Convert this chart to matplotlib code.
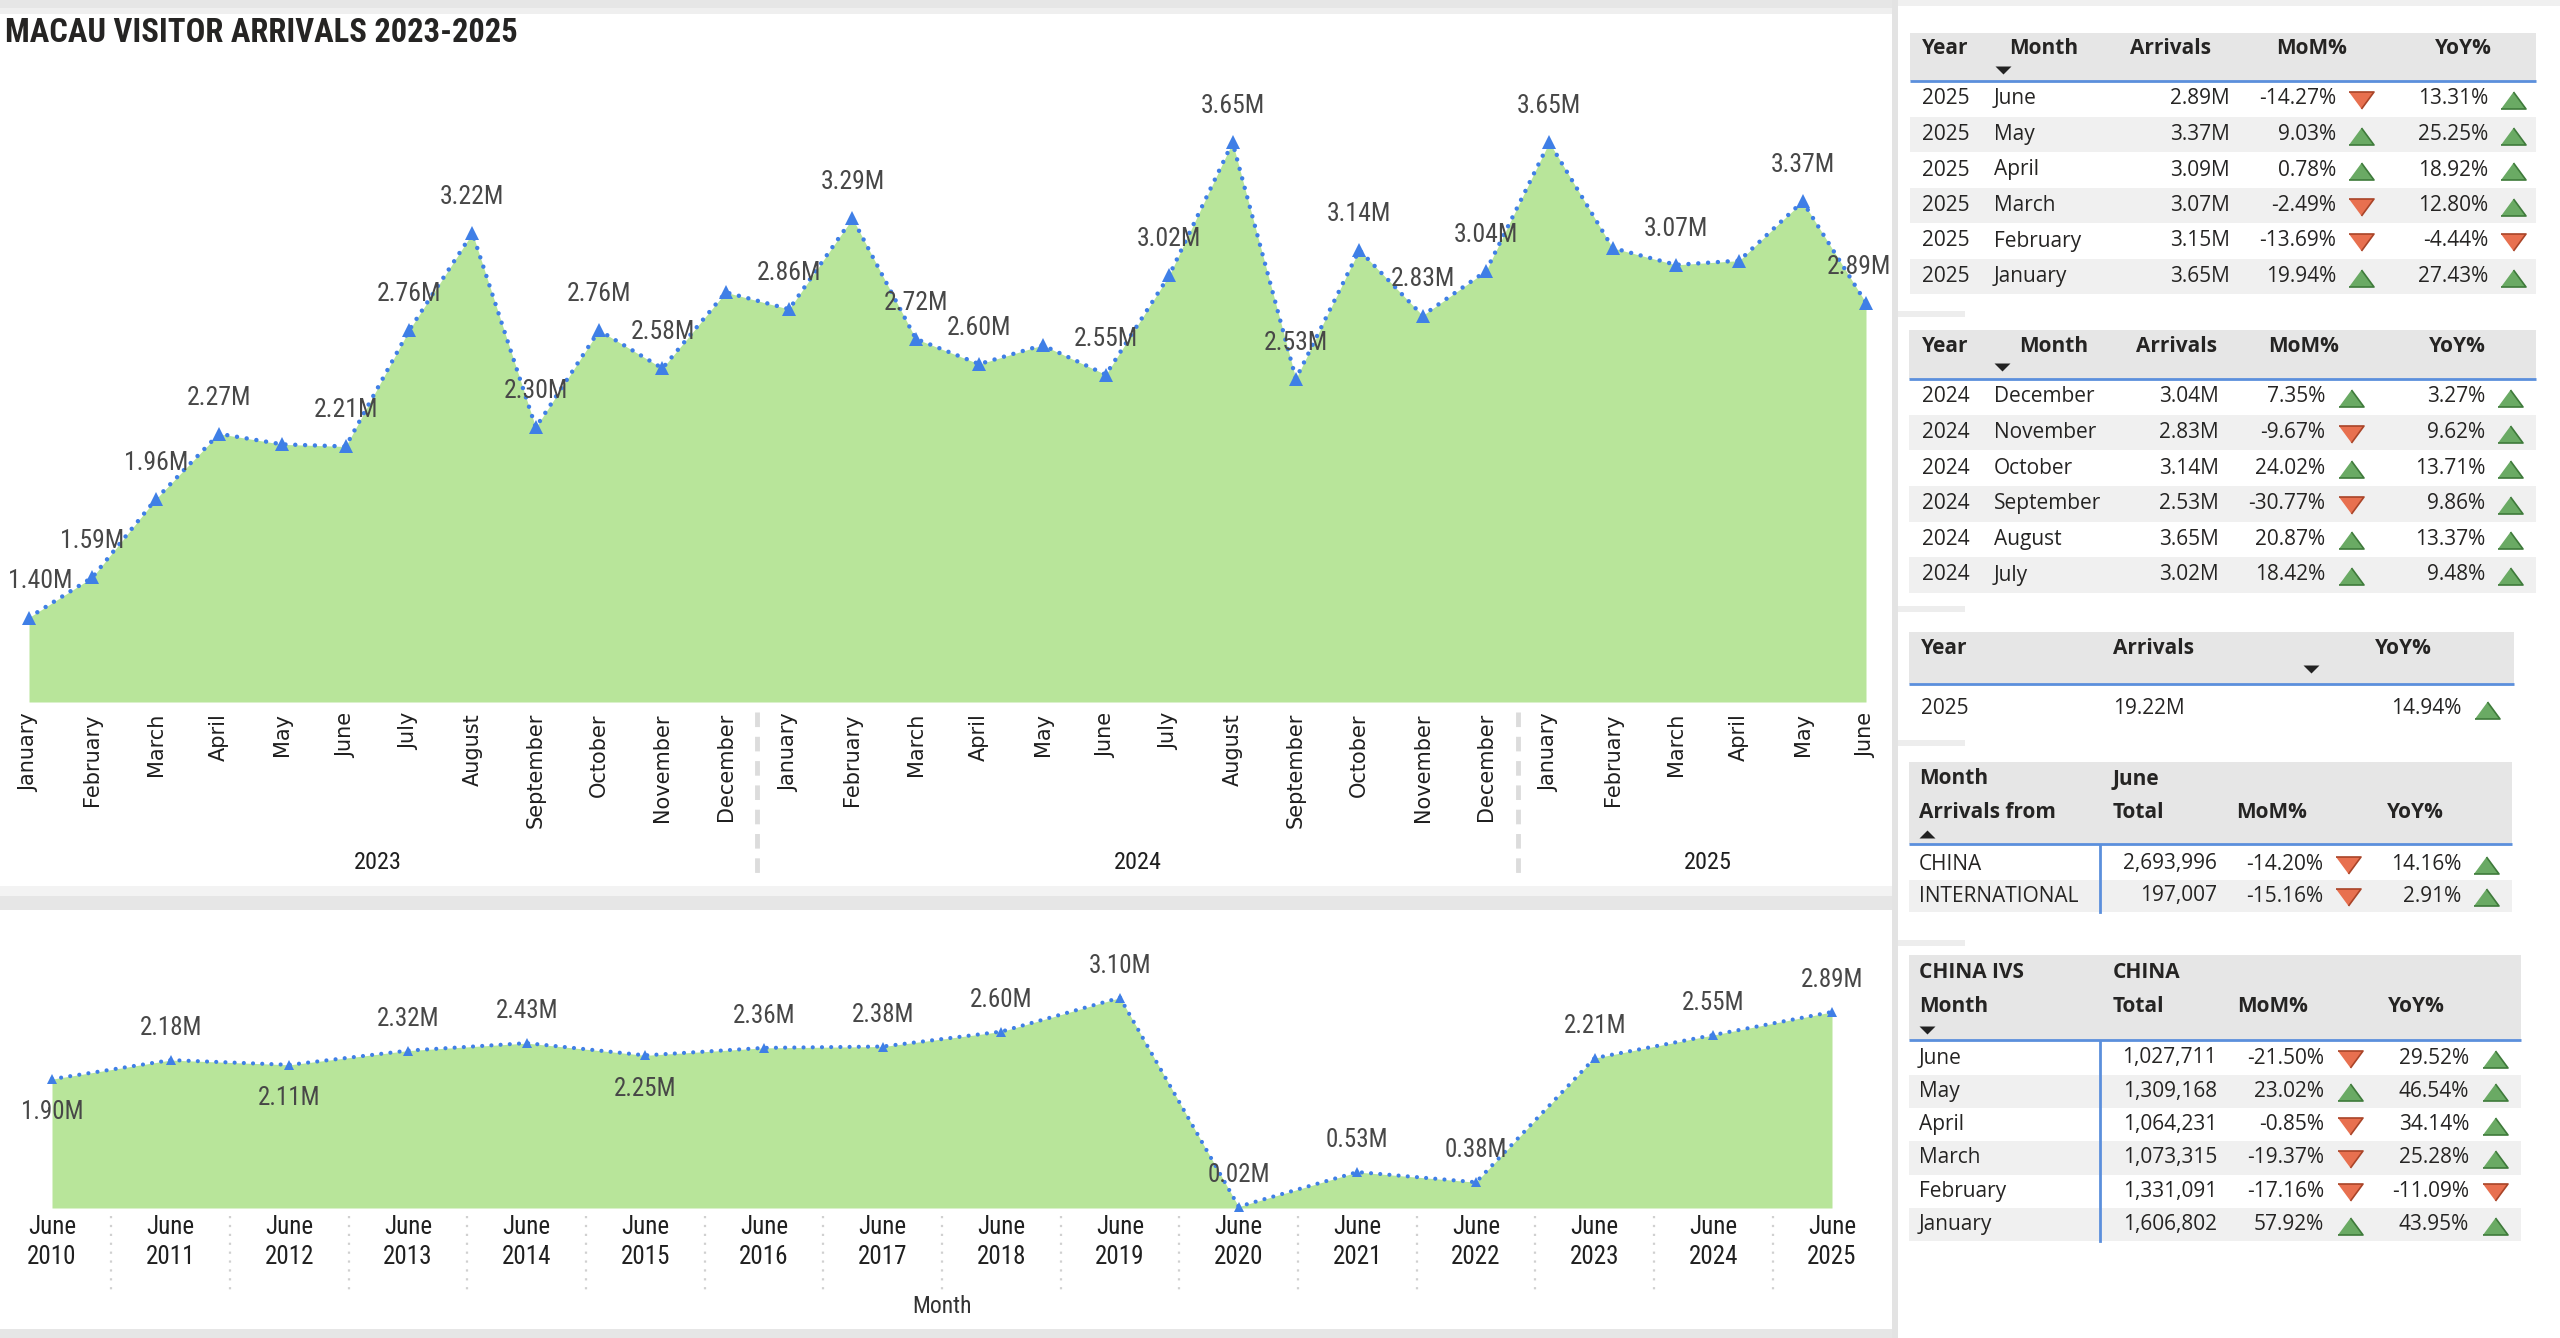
import matplotlib
matplotlib.use('Agg')
import matplotlib.pyplot as plt
from matplotlib.patches import Rectangle
import numpy as np

W, H = 2560, 1338
DPI = 100

# ---------------- data ----------------
top_months = ['January', 'February', 'March', 'April', 'May', 'June', 'July', 'August',
              'September', 'October', 'November', 'December',
              'January', 'February', 'March', 'April', 'May', 'June', 'July', 'August',
              'September', 'October', 'November', 'December',
              'January', 'February', 'March', 'April', 'May', 'June']
top_years = ['2023', '2024', '2025']
top_year_counts = [12, 12, 6]
top_values = [1.40, 1.59, 1.96, 2.27, 2.22, 2.21, 2.76, 3.22, 2.30, 2.76, 2.58, 2.94,
              2.86, 3.29, 2.72, 2.60, 2.69, 2.55, 3.02, 3.65, 2.53, 3.14, 2.83, 3.04,
              3.65, 3.15, 3.07, 3.09, 3.37, 2.89]
top_label_shown = [True, True, True, True, False, True, True, True, True, True, True, False,
                   True, True, True, True, False, True, True, True, True, True, True, True,
                   True, False, True, False, True, True]

june_month = 'June'
june_years = ['2010', '2011', '2012', '2013', '2014', '2015', '2016', '2017',
              '2018', '2019', '2020', '2021', '2022', '2023', '2024', '2025']
june_values = [1.90, 2.18, 2.11, 2.32, 2.43, 2.25, 2.36, 2.38,
               2.60, 3.10, 0.02, 0.53, 0.38, 2.21, 2.55, 2.89]
june_label_below = [True, False, True, False, False, True, False, False,
                    False, False, False, False, False, False, False, False]

t1_year = ['2025', '2025', '2025', '2025', '2025', '2025']
t1_month = ['June', 'May', 'April', 'March', 'February', 'January']
t1_arrivals = [2.89, 3.37, 3.09, 3.07, 3.15, 3.65]
t1_mom = [-14.27, 9.03, 0.78, -2.49, -13.69, 19.94]
t1_yoy = [13.31, 25.25, 18.92, 12.80, -4.44, 27.43]

t2_year = ['2024', '2024', '2024', '2024', '2024', '2024']
t2_month = ['December', 'November', 'October', 'September', 'August', 'July']
t2_arrivals = [3.04, 2.83, 3.14, 2.53, 3.65, 3.02]
t2_mom = [7.35, -9.67, 24.02, -30.77, 20.87, 18.42]
t2_yoy = [3.27, 9.62, 13.71, 9.86, 13.37, 9.48]

t3_year = '2025'
t3_arrivals = 19.22
t3_yoy = 14.94

t4_month = 'June'
t4_origin = ['CHINA', 'INTERNATIONAL']
t4_total = [2693996, 197007]
t4_mom = [-14.20, -15.16]
t4_yoy = [14.16, 2.91]

t5_month = ['June', 'May', 'April', 'March', 'February', 'January']
t5_total = [1027711, 1309168, 1064231, 1073315, 1331091, 1606802]
t5_mom = [-21.50, 23.02, -0.85, -19.37, -17.16, 57.92]
t5_yoy = [29.52, 46.54, 34.14, 25.28, -11.09, 43.95]

# ---------------- style ----------------
GREEN_FILL = '#b8e59a'
BLUE = '#3f7fe6'
LABEL_C = '#474747'
COND = ['Roboto Condensed', 'Liberation Sans Narrow', 'Roboto', 'DejaVu Sans']
TFONT = ['Open Sans', 'DejaVu Sans']
HDR_BG = '#e6e6e6'
ROW_BG = '#f0f0f0'
LINE_BLUE = '#5b8fdc'
TXT = '#252423'

fig = plt.figure(figsize=(W / DPI, H / DPI), dpi=DPI)
fig.patch.set_facecolor('white')


def fx(px):
    return px / W


def fy(py):
    return 1 - py / H


# ---------------- background ----------------
bg = fig.add_axes([0, 0, 1, 1], zorder=0)
bg.set_xlim(0, W)
bg.set_ylim(H, 0)
bg.axis('off')


def rect(ax, x0, y0, x1, y1, color, z=1):
    ax.add_patch(Rectangle((x0, y0), x1 - x0, y1 - y0, facecolor=color,
                           edgecolor='none', lw=0, zorder=z))


rect(bg, 0, 0, 1892, 8, '#e6e6e6')
rect(bg, 0, 8, 1892, 14, '#efefef')
rect(bg, 1898, 0, W, 6, '#f0f0f0')
rect(bg, 1892, 0, 1898, H, '#e3e3e3')
rect(bg, 0, 886, 1892, 896, '#f3f3f3')
rect(bg, 0, 896, 1892, 910, '#e6e6e6')
rect(bg, 0, 1329, 1892, H, '#e6e6e6')
for yy in (311, 606, 740, 940):
    rect(bg, 1898, yy, 1965, yy + 6, '#ededed')

DOTS = (0, (0.01, 2.2))

# ---------------- top chart ----------------
TOP_YMIN, TOP_YMAX = 1.0, 4.04
ax1 = fig.add_axes([fx(29), fy(702), fx(1866) - fx(29), fy(60) - fy(702)], zorder=1)
ax1.set_facecolor('none')
x1 = np.arange(len(top_values))
ax1.fill_between(x1, top_values, TOP_YMIN, color=GREEN_FILL, lw=0)
ax1.plot(x1, top_values, ls=DOTS, lw=3.2, color=BLUE, marker='^', ms=10,
         markeredgewidth=0, clip_on=False, dash_capstyle='round')
ax1.set_xlim(0, len(top_values) - 1)
ax1.set_ylim(TOP_YMIN, TOP_YMAX)
for i, (v, s) in enumerate(zip(top_values, top_label_shown)):
    if not s:
        continue
    dx = 0
    if i == 0:
        dx = 8
    elif i == len(top_values) - 1:
        dx = -5
    ax1.annotate(f'{v:.2f}M', (i, v), xytext=(dx, 26), textcoords='offset points',
                 ha='center', va='center', fontsize=18.5, color=LABEL_C,
                 family=COND, annotation_clip=False)
ax1.set_xticks(x1)
ax1.set_xticklabels(top_months, rotation=90, fontsize=15, family='DejaVu Sans',
                    color='#1f1f1f')
ax1.tick_params(axis='x', length=0, pad=8)
ax1.set_yticks([])
for sp in ax1.spines.values():
    sp.set_visible(False)
xt = ax1.get_xaxis_transform()
start = 0
for yr, n in zip(top_years, top_year_counts):
    ax1.text(start + (n - 1) / 2, -0.25, yr, transform=xt, ha='center', va='center',
             fontsize=17.5, family=COND, color='#1f1f1f')
    if start + n < len(top_values):
        ax1.plot([start + n - 0.5] * 2, [-0.016, -0.274], transform=xt, color='#dcdcdc',
                 lw=3.5, ls=(0, (3, 2)), clip_on=False)
    start += n
bg.text(5, 33, 'MACAU VISITOR ARRIVALS 2023-2025', fontsize=23.5, fontweight='bold',
        family=COND, color='#252423', ha='left', va='center', zorder=5)

# ---------------- bottom chart ----------------
BOT_YMIN, BOT_YMAX = 0.0, 3.95
ax2 = fig.add_axes([fx(52), fy(1208), fx(1832) - fx(52), fy(940) - fy(1208)], zorder=1)
ax2.set_facecolor('none')
x2 = np.arange(len(june_values))
ax2.fill_between(x2, june_values, BOT_YMIN, color=GREEN_FILL, lw=0)
ax2.plot(x2, june_values, ls=DOTS, lw=3.0, color=BLUE, marker='^', ms=7.5,
         markeredgewidth=0, clip_on=False, dash_capstyle='round')
ax2.set_xlim(0, len(june_values) - 1)
ax2.set_ylim(BOT_YMIN, BOT_YMAX)
for i, (v, below) in enumerate(zip(june_values, june_label_below)):
    ax2.annotate(f'{v:.2f}M', (i, v), xytext=(0, -24 if below else 23),
                 textcoords='offset points', ha='center', va='center', fontsize=18,
                 color=LABEL_C, family=COND, annotation_clip=False)
ax2.set_xticks(x2)
ax2.set_xticklabels([f'{june_month}\n{y}' for y in june_years], fontsize=18,
                    family=COND, color='#1f1f1f', linespacing=1.3)
ax2.tick_params(axis='x', length=0, pad=5)
ax2.set_yticks([])
for sp in ax2.spines.values():
    sp.set_visible(False)
xt2 = ax2.get_xaxis_transform()
for i in range(len(june_values) - 1):
    ax2.plot([i + 0.5] * 2, [-0.03, -0.306], transform=xt2, color='#d0d0d0', lw=1.6,
             ls=(0, (1, 3)), clip_on=False)
ax2.text((len(june_values) - 1) / 2, -0.366, 'Month', transform=xt2, ha='center',
         va='center', fontsize=17, family=COND, color='#333333')

# ---------------- tables ----------------
ov = fig.add_axes([0, 0, 1, 1], zorder=3)
ov.set_facecolor('none')
ov.set_xlim(0, W)
ov.set_ylim(H, 0)
ov.axis('off')

UP = [(-1, -0.68), (1, -0.68), (0, 0.68)]
DOWN = [(-1, 0.68), (1, 0.68), (0, -0.68)]
SORT_DOWN = [(-1, 0.5), (1, 0.5), (0, -0.5)]
SORT_UP = [(-1, -0.5), (1, -0.5), (0, 0.5)]


def t(x, y, s, ha='left', bold=False, size=15, color=TXT):
    ov.text(x, y, s, ha=ha, va='center', fontsize=size, family=TFONT,
            fontweight='bold' if bold else 'normal', color=color, zorder=5)


def ind(x, y, v):
    if v >= 0:
        ov.plot([x], [y], marker=UP, ms=18, color='#6aaa64', mec='#3e7a3a', mew=1.2, zorder=6)
    else:
        ov.plot([x], [y], marker=DOWN, ms=18, color='#e8704f', mec='#a94428', mew=1.2, zorder=6)


def sort_arrow(x, y, down=True):
    ov.plot([x], [y], marker=SORT_DOWN if down else SORT_UP, ms=11.5, color='#222222',
            mew=0, zorder=6)


def header(x0, x1, y0, y1):
    rect(ov, x0, y0, x1, y1, HDR_BG)
    ov.plot([x0, x1], [y1, y1], color=LINE_BLUE, lw=2, zorder=4, solid_capstyle='butt')


def pct(v):
    return f'{v:.2f}%'


# Table 1
header(1910, 2536, 33, 81)
for i in range(len(t1_month)):
    yc = 99 + 35.5 * i
    if i % 2 == 1:
        rect(ov, 1910, yc - 17.75, 2536, yc + 17.75, ROW_BG)
    t(1922, yc, t1_year[i])
    t(1994, yc, t1_month[i])
    t(2230, yc, f'{t1_arrivals[i]:.2f}M', ha='right')
    t(2336, yc, pct(t1_mom[i]), ha='right')
    ind(2361, yc + 1, t1_mom[i])
    t(2488, yc, pct(t1_yoy[i]), ha='right')
    ind(2513, yc + 1, t1_yoy[i])
t(1922, 49, 'Year', bold=True)
t(2009, 49, 'Month', bold=True)
t(2171, 49, 'Arrivals', ha='center', bold=True)
t(2312, 49, 'MoM%', ha='center', bold=True)
t(2463, 49, 'YoY%', ha='center', bold=True)
sort_arrow(2003, 70)

# Table 2
header(1909, 2536, 330, 379)
for i in range(len(t2_month)):
    yc = 397 + 35.6 * i
    if i % 2 == 1:
        rect(ov, 1909, yc - 17.8, 2536, yc + 17.8, ROW_BG)
    t(1922, yc, t2_year[i])
    t(1994, yc, t2_month[i])
    t(2219, yc, f'{t2_arrivals[i]:.2f}M', ha='right')
    t(2325, yc, pct(t2_mom[i]), ha='right')
    ind(2351, yc + 1, t2_mom[i])
    t(2485, yc, pct(t2_yoy[i]), ha='right')
    ind(2510, yc + 1, t2_yoy[i])
t(1922, 346, 'Year', bold=True)
t(2019, 346, 'Month', bold=True)
t(2177, 346, 'Arrivals', ha='center', bold=True)
t(2304, 346, 'MoM%', ha='center', bold=True)
t(2457, 346, 'YoY%', ha='center', bold=True)
sort_arrow(2002, 367)

# Table 3
header(1909, 2514, 632, 684)
t(1921, 648, 'Year', bold=True)
t(2113, 648, 'Arrivals', bold=True)
t(2403, 648, 'YoY%', ha='center', bold=True)
sort_arrow(2311, 669)
t(1921, 709, t3_year)
t(2113, 709, f'{t3_arrivals:.2f}M')
t(2461, 709, pct(t3_yoy), ha='right')
ind(2487, 710, t3_yoy)

# Table 4
header(1909, 2512, 762, 844)
for i in range(len(t4_origin)):
    yc = 864 + 32 * i
    if i % 2 == 1:
        rect(ov, 1909, yc - 16, 2512, yc + 16, ROW_BG)
    t(1919, yc, t4_origin[i])
    t(2217, yc, f'{t4_total[i]:,}', ha='right')
    t(2323, yc, pct(t4_mom[i]), ha='right')
    ind(2348, yc + 1, t4_mom[i])
    t(2461, yc, pct(t4_yoy[i]), ha='right')
    ind(2486, yc + 1, t4_yoy[i])
ov.plot([2100, 2100], [845, 912], color=LINE_BLUE, lw=2, zorder=4)
t(1919, 779, 'Month', bold=True)
t(2113, 779, t4_month, bold=True)
t(1919, 813, 'Arrivals from', bold=True)
t(2113, 813, 'Total', bold=True)
t(2272, 813, 'MoM%', ha='center', bold=True)
t(2415, 813, 'YoY%', ha='center', bold=True)
sort_arrow(1927, 834, down=False)

# Table 5
header(1909, 2521, 955, 1040)
for i in range(len(t5_month)):
    yc = 1058 + 33.3 * i
    if i % 2 == 1:
        rect(ov, 1909, yc - 16.65, 2521, yc + 16.65, ROW_BG)
    t(1919, yc, t5_month[i])
    t(2217, yc, f'{t5_total[i]:,}', ha='right')
    t(2324, yc, pct(t5_mom[i]), ha='right')
    ind(2350, yc + 1, t5_mom[i])
    t(2469, yc, pct(t5_yoy[i]), ha='right')
    ind(2495, yc + 1, t5_yoy[i])
ov.plot([2100, 2100], [1041, 1241], color=LINE_BLUE, lw=2, zorder=4)
t(1919, 973, 'CHINA IVS', bold=True)
t(2113, 973, 'CHINA', bold=True)
t(1919, 1007, 'Month', bold=True)
t(2113, 1007, 'Total', bold=True)
t(2273, 1007, 'MoM%', ha='center', bold=True)
t(2416, 1007, 'YoY%', ha='center', bold=True)
sort_arrow(1927, 1030)

fig.savefig('out.png', dpi=DPI, facecolor='white')
